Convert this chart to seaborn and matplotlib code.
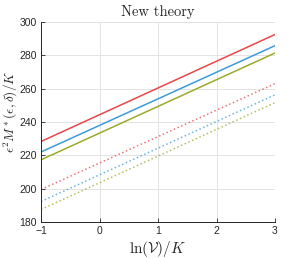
import numpy as np
import pandas as pd
import matplotlib
matplotlib.use("Agg")
import matplotlib.pyplot as plt
import seaborn as sns

x_vals = [-1, 3]
red_solid = [228.3, 292.5]
blue_solid = [222.0, 285.8]
green_solid = [217.3, 281.4]
red_dotted = [199.5, 263.0]
blue_dotted = [192.3, 256.3]
green_dotted = [187.5, 251.6]

xticks = [-1, 0, 1, 2, 3]
yticks = [180, 200, 220, 240, 260, 280, 300]

sns.set_theme(style="white")
plt.rcParams['font.family'] = ['Liberation Sans', 'DejaVu Sans']
plt.rcParams['mathtext.fontset'] = 'cm'

fig = plt.figure(figsize=(2.89, 2.58), dpi=100)
ax = fig.add_axes([41/289, 1-222/258, 234/289, 200/258])

red = '#E8474B'
blue = '#3C9BDB'
green = '#9BAA2A'

series = [
    (red_solid, red, '-', 1.0),
    (blue_solid, blue, '-', 1.0),
    (green_solid, green, '-', 1.0),
    (red_dotted, red, ':', 0.75),
    (blue_dotted, blue, ':', 0.75),
    (green_dotted, green, ':', 0.75),
]
for vals, c, ls, a in series:
    df = pd.DataFrame({'x': x_vals, 'y': vals})
    sns.lineplot(data=df, x='x', y='y', ax=ax, color=c, linestyle=ls, linewidth=1.1, alpha=a)

ax.set_xlim(-1, 3)
ax.set_ylim(180, 300)
ax.set_xticks(xticks)
ax.set_yticks(yticks)
ax.grid(True, color='#E3E3E3', linewidth=0.7)
for s in ['top', 'right']:
    ax.spines[s].set_visible(False)
for s in ['left', 'bottom']:
    ax.spines[s].set_color('#262626')
    ax.spines[s].set_linewidth(0.7)
ax.tick_params(direction='in', length=3, width=0.6, labelsize=7.5, colors='#262626', pad=3,
               bottom=True, left=True)
ax.set_xlabel(r'$\ln(\mathcal{V})/K$', fontsize=11, labelpad=2)
ax.set_ylabel(r'$\epsilon^2 M^*(\epsilon,\delta)/K$', fontsize=9.5)
ax.yaxis.set_label_coords(-0.088, 0.55)
ax.set_title('New theory', fontsize=10.5, pad=4)
ax.title.set_fontfamily(['cmr10', 'DejaVu Serif'])
fig.savefig('out.png', dpi=100)
